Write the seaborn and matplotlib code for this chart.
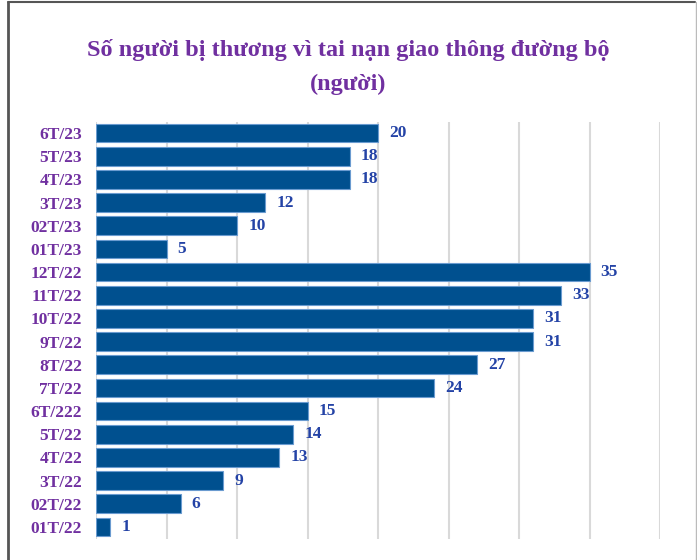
import matplotlib
matplotlib.use("Agg")
import matplotlib.pyplot as plt
from matplotlib.lines import Line2D
import seaborn as sns
import pandas as pd

# Monthly injured counts, listed top to bottom
months = ["6T/23", "5T/23", "4T/23", "3T/23", "02T/23", "01T/23",
          "12T/22", "11T/22", "10T/22", "9T/22", "8T/22", "7T/22",
          "6T/222", "5T/22", "4T/22", "3T/22", "02T/22", "01T/22"]
injured = [20, 18, 18, 12, 10, 5, 35, 33, 31, 31, 27, 24, 15, 14, 13, 9, 6, 1]

title_text = "Số người bị thương vì tai nạn giao thông đường bộ\n(người)"

BAR_COLOR = "#00508F"
EDGE_COLOR = "#6A9BD0"
LABEL_PURPLE = "#7030A0"
VALUE_BLUE = "#2443A6"
GRID_GRAY = "#D9D9D9"

sns.set_theme(style="white")
plt.rcParams["font.family"] = ["Liberation Serif", "DejaVu Serif"]
plt.rcParams["font.weight"] = "bold"

df = pd.DataFrame({"month": months, "injured": injured})

fig = plt.figure(figsize=(6.97, 5.60), dpi=100)
ax = fig.add_axes([96 / 697, 1 - 538.5 / 560, (660 - 96) / 697, 417 / 560])

sns.barplot(data=df, y="month", x="injured", order=months, orient="h",
            color=BAR_COLOR, saturation=1, width=0.8,
            edgecolor=EDGE_COLOR, linewidth=0.8, ax=ax)

ax.set_xlim(0, 40)
ax.set_ylim(len(months) - 0.5, -0.5)
ax.set_xticks(range(0, 41, 5))
ax.xaxis.grid(True, color=GRID_GRAY, linewidth=1.5)
ax.set_axisbelow(True)
ax.tick_params(axis="x", length=0, labelbottom=False)
ax.tick_params(axis="y", length=0, pad=10, labelsize=12.5, labelcolor=LABEL_PURPLE)
for lbl in ax.get_yticklabels():
    lbl.set_fontweight("bold")
for s in ax.spines.values():
    s.set_visible(False)
ax.set_xlabel("")
ax.set_ylabel("")

for cont in ax.containers:
    ax.bar_label(cont, labels=[str(v) for v in injured], padding=8,
                 fontsize=12.5, fontweight="bold", color=VALUE_BLUE)

fig.text(0.5, 1 - 67 / 560, title_text, ha="center", va="center",
         fontsize=17.5, fontweight="bold", color=LABEL_PURPLE, linespacing=1.75)

# Outer chart frame
fig.add_artist(Line2D([8 / 697, 8 / 697], [0, 1 - 2 / 560], transform=fig.transFigure,
                      color="#555555", linewidth=2))
fig.add_artist(Line2D([8 / 697, 695 / 697], [1 - 2 / 560, 1 - 2 / 560], transform=fig.transFigure,
                      color="#555555", linewidth=1.5))
fig.add_artist(Line2D([695.5 / 697, 695.5 / 697], [0, 1 - 2 / 560], transform=fig.transFigure,
                      color="#BBBBBB", linewidth=1))

fig.savefig("out.png", dpi=100)
